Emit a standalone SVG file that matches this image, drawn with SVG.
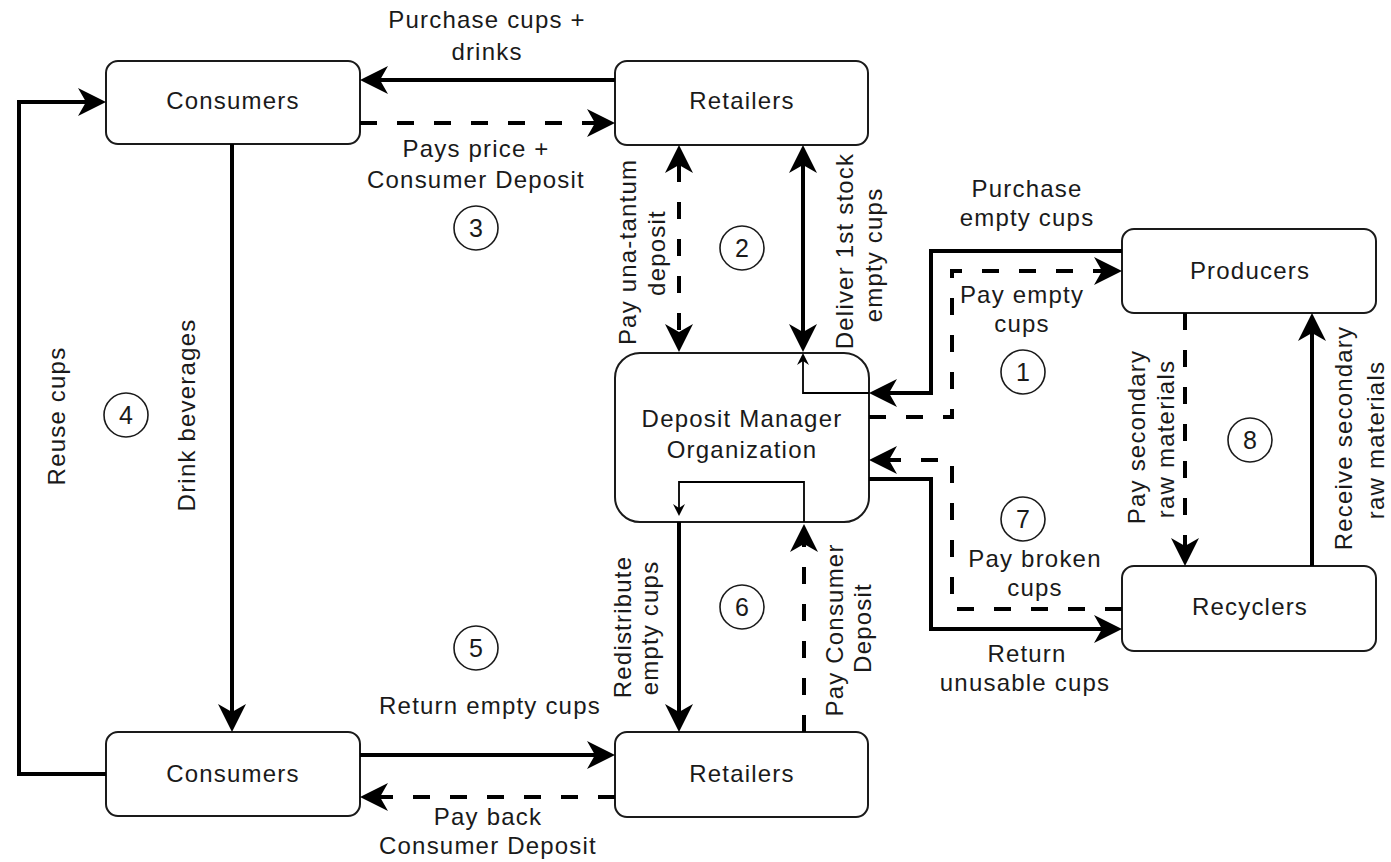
<svg xmlns="http://www.w3.org/2000/svg" width="1391" height="862" viewBox="0 0 1391 862">
  <style>
    .box { fill: #fff; stroke: #1a1a1a; stroke-width: 2; }
    .lbl { font-family: "Liberation Sans", Arial, Helvetica, sans-serif; font-size: 24px; letter-spacing: 1.2px; fill: #1a1a1a; text-anchor: middle; }
    .num { font-family: "Liberation Sans", Arial, Helvetica, sans-serif; font-size: 25px; fill: #1a1a1a; text-anchor: middle; }
    .ring { fill: none; stroke: #1a1a1a; stroke-width: 1.6; }
    .s { fill: none; stroke: #000; stroke-width: 4; }
    .d { stroke-dasharray: 17 20; }
    .t { fill: none; stroke: #000; stroke-width: 1.8; }
  </style>
  <defs>
    <!-- classic notched arrowhead; path ends at the notch, tip sits 20px beyond -->
    <marker id="ah" viewBox="-30 -16 32 32" markerWidth="32" markerHeight="32" refX="-20" refY="0" orient="auto-start-reverse" markerUnits="userSpaceOnUse">
      <path d="M0,0 L-28,-14 L-20,0 L-28,14 Z" fill="#000"/>
    </marker>
    <marker id="sm" viewBox="-13 -7 15 14" markerWidth="15" markerHeight="14" refX="-8" refY="0" orient="auto" markerUnits="userSpaceOnUse">
      <path d="M0,0 L-12,-6 L-8,0 L-12,6 Z" fill="#000"/>
    </marker>
  </defs>

  <rect width="1391" height="862" fill="#fff"/>

  <!-- nodes -->
  <g id="consumers-top">
    <rect class="box" x="106" y="61" width="254" height="83" rx="12"/>
    <text class="lbl" x="233" y="109">Consumers</text>
  </g>
  <g id="retailers-top">
    <rect class="box" x="615" y="61" width="253" height="84" rx="12"/>
    <text class="lbl" x="742" y="109">Retailers</text>
  </g>
  <g id="deposit-manager">
    <rect class="box" x="615" y="353" width="254" height="169" rx="25"/>
    <text class="lbl" x="742" y="427">Deposit Manager</text>
    <text class="lbl" x="742" y="458">Organization</text>
  </g>
  <g id="producers">
    <rect class="box" x="1122" y="229" width="254" height="84" rx="12"/>
    <text class="lbl" x="1250" y="279">Producers</text>
  </g>
  <g id="recyclers">
    <rect class="box" x="1122" y="566" width="254" height="85" rx="12"/>
    <text class="lbl" x="1250" y="615">Recyclers</text>
  </g>
  <g id="consumers-bottom">
    <rect class="box" x="106" y="732" width="254" height="84" rx="12"/>
    <text class="lbl" x="233" y="782">Consumers</text>
  </g>
  <g id="retailers-bottom">
    <rect class="box" x="615" y="732" width="253" height="85" rx="12"/>
    <text class="lbl" x="742" y="782">Retailers</text>
  </g>

  <!-- connectors -->
  <g id="connectors">
    <path class="s" d="M615,80 H380" marker-end="url(#ah)"/>
    <path class="s d" d="M360,123 H595" marker-end="url(#ah)"/>
    <path class="s d" d="M679,165 V332" marker-start="url(#ah)" marker-end="url(#ah)"/>
    <path class="s" d="M803,165 V332" marker-start="url(#ah)" marker-end="url(#ah)"/>
    <path class="s" d="M1122,251 H931 V393 H889" marker-end="url(#ah)"/>
    <path class="t" d="M869,393 H803 V361" marker-end="url(#sm)"/>
    <path class="s d" d="M869,417 H952 V271 H1102" marker-end="url(#ah)"/>
    <path class="s" d="M869,479 H931 V629 H1102" marker-end="url(#ah)"/>
    <path class="s d" d="M1122,609 H952 V460 H889" marker-end="url(#ah)"/>
    <path class="s d" d="M1185,313 V546" marker-end="url(#ah)"/>
    <path class="s" d="M1312,566 V333" marker-end="url(#ah)"/>
    <path class="s" d="M232,144 V712" marker-end="url(#ah)"/>
    <path class="s" d="M106,774 H19 V102 H86" marker-end="url(#ah)"/>
    <path class="s" d="M360,755 H595" marker-end="url(#ah)"/>
    <path class="s d" d="M615,797 H380" marker-end="url(#ah)"/>
    <path class="s" d="M679,522 V712" marker-end="url(#ah)"/>
    <path class="t" d="M804,522 V482 H679 V508" marker-end="url(#sm)"/>
    <path class="s d" d="M804,732 V544" marker-end="url(#ah)"/>

    <!-- edge labels -->
    <text class="lbl" x="487" y="28">Purchase cups +</text>
    <text class="lbl" x="487" y="60">drinks</text>
    <text class="lbl" x="476" y="157">Pays price +</text>
    <text class="lbl" x="476" y="188">Consumer Deposit</text>
    <text class="lbl" x="1027" y="197">Purchase</text>
    <text class="lbl" x="1027" y="226">empty cups</text>
    <text class="lbl" x="1022" y="303">Pay empty</text>
    <text class="lbl" x="1022" y="332">cups</text>
    <text class="lbl" x="1035" y="567">Pay broken</text>
    <text class="lbl" x="1035" y="596">cups</text>
    <text class="lbl" x="1027" y="662">Return</text>
    <text class="lbl" x="1025" y="691">unusable cups</text>
    <text class="lbl" x="490" y="714">Return empty cups</text>
    <text class="lbl" x="488" y="825">Pay back</text>
    <text class="lbl" x="488" y="854">Consumer Deposit</text>

    <text class="lbl" transform="translate(65,416) rotate(-90)">Reuse cups</text>
    <text class="lbl" transform="translate(195,415) rotate(-90)">Drink beverages</text>
    <text class="lbl" transform="translate(636,252) rotate(-90)">Pay una-tantum</text>
    <text class="lbl" transform="translate(665,253) rotate(-90)">deposit</text>
    <text class="lbl" transform="translate(853,251) rotate(-90)">Deliver 1st stock</text>
    <text class="lbl" transform="translate(882,255) rotate(-90)">empty cups</text>
    <text class="lbl" transform="translate(631,627) rotate(-90)">Redistribute</text>
    <text class="lbl" transform="translate(658,628) rotate(-90)">empty cups</text>
    <text class="lbl" transform="translate(843,630) rotate(-90)">Pay Consumer</text>
    <text class="lbl" transform="translate(871,628) rotate(-90)">Deposit</text>
    <text class="lbl" transform="translate(1145,437) rotate(-90)">Pay secondary</text>
    <text class="lbl" transform="translate(1174,439) rotate(-90)">raw materials</text>
    <text class="lbl" transform="translate(1352,438) rotate(-90)">Receive secondary</text>
    <text class="lbl" transform="translate(1384,440) rotate(-90)">raw materials</text>
  </g>

  <!-- step numbers -->
  <g id="steps">
    <circle class="ring" cx="1023" cy="372" r="22"/><text class="num" x="1023" y="381">1</text>
    <circle class="ring" cx="742" cy="248" r="22"/><text class="num" x="742" y="257">2</text>
    <circle class="ring" cx="476" cy="228" r="22"/><text class="num" x="476" y="237">3</text>
    <circle class="ring" cx="126" cy="415" r="22"/><text class="num" x="126" y="424">4</text>
    <circle class="ring" cx="476" cy="648" r="22"/><text class="num" x="476" y="657">5</text>
    <circle class="ring" cx="742" cy="607" r="22"/><text class="num" x="742" y="616">6</text>
    <circle class="ring" cx="1023" cy="519" r="22"/><text class="num" x="1023" y="528">7</text>
    <circle class="ring" cx="1250" cy="440" r="22"/><text class="num" x="1250" y="449">8</text>
  </g>
</svg>
